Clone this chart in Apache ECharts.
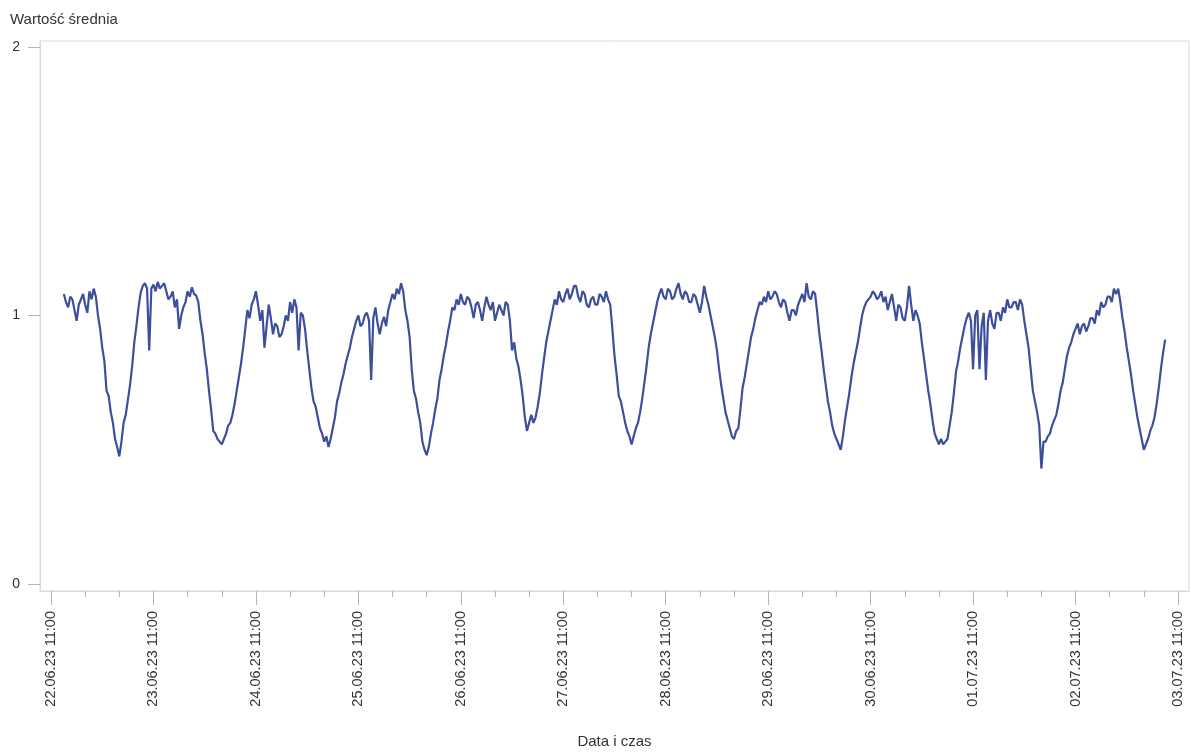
<!DOCTYPE html>
<html>
<head>
<meta charset="utf-8">
<title>Wartość średnia</title>
<script src="https://cdn.jsdelivr.net/npm/echarts@6/dist/echarts.min.js"></script>
<style>
  html, body { margin: 0; padding: 0; background: #fff; }
  #chart { width: 1191px; height: 752px; }
</style>
</head>
<body>
<div id="chart"></div>
<script>
// Half-hourly mean values, first sample 22.06.2023 14:00, one array per day (11:00 → 10:30)
const seriesStart = new Date(2023, 5, 22, 14, 0, 0).getTime();
const stepMs = 30 * 60 * 1000;
const hourMs = 3600 * 1000;

const day0 = [1.08, 1.05, 1.03, 1.07, 1.06, 1.02, 0.98, 1.04, 1.06, 1.08, 1.04, 1.01, 1.09, 1.06,
  1.10, 1.07, 1.00, 0.95, 0.88, 0.83, 0.72, 0.70, 0.64, 0.60, 0.54, 0.51, 0.475, 0.53, 0.60, 0.63,
  0.685, 0.74, 0.81, 0.90, 0.96, 1.03, 1.085, 1.11, 1.12, 1.10, 0.87, 1.10];
const day1 = [1.115, 1.09, 1.125, 1.10, 1.11, 1.12, 1.09, 1.06, 1.07, 1.09, 1.03, 1.06, 0.95, 1.00,
  1.03, 1.05, 1.09, 1.07, 1.105, 1.08, 1.075, 1.05, 0.98, 0.93, 0.86, 0.80, 0.72, 0.65, 0.57, 0.56,
  0.54, 0.53, 0.52, 0.54, 0.56, 0.59, 0.60, 0.63, 0.67, 0.72, 0.77, 0.82, 0.88, 0.95, 1.02, 0.99, 1.04, 1.06];
const day2 = [1.09, 1.04, 0.98, 1.02, 0.88, 0.96, 1.04, 0.99, 0.93, 0.97, 0.96, 0.92, 0.93, 0.96,
  1.00, 0.98, 1.05, 1.01, 1.06, 1.03, 0.87, 1.01, 1.00, 0.95, 0.87, 0.80, 0.73, 0.68, 0.66, 0.62,
  0.58, 0.56, 0.53, 0.55, 0.51, 0.54, 0.58, 0.62, 0.68, 0.71, 0.75, 0.78, 0.82, 0.85, 0.88, 0.92, 0.95, 0.98];
const day3 = [1.00, 0.96, 0.97, 1.00, 1.01, 0.98, 0.76, 0.99, 1.03, 0.97, 0.93, 0.97, 0.995, 0.96,
  1.02, 1.05, 1.08, 1.06, 1.10, 1.08, 1.12, 1.09, 1.02, 0.98, 0.92, 0.80, 0.72, 0.69, 0.64, 0.60,
  0.53, 0.50, 0.48, 0.51, 0.56, 0.60, 0.65, 0.69, 0.76, 0.80, 0.85, 0.89, 0.94, 0.98, 1.03, 1.02, 1.06, 1.04];
const day4 = [1.08, 1.05, 1.04, 1.07, 1.06, 1.03, 0.99, 1.04, 1.05, 1.02, 0.98, 1.03, 1.07, 1.04,
  1.02, 1.05, 0.98, 1.01, 1.04, 1.02, 1.00, 1.05, 1.04, 0.98, 0.87, 0.90, 0.84, 0.81, 0.76, 0.70,
  0.62, 0.57, 0.60, 0.63, 0.60, 0.62, 0.66, 0.71, 0.78, 0.84, 0.90, 0.94, 0.98, 1.02, 1.06, 1.04, 1.09, 1.06];
const day5 = [1.05, 1.08, 1.10, 1.06, 1.08, 1.11, 1.11, 1.07, 1.05, 1.09, 1.08, 1.04, 1.03, 1.06,
  1.07, 1.04, 1.04, 1.08, 1.07, 1.05, 1.09, 1.06, 1.04, 0.95, 0.85, 0.78, 0.70, 0.68, 0.64, 0.60,
  0.57, 0.55, 0.52, 0.55, 0.58, 0.60, 0.64, 0.69, 0.75, 0.81, 0.88, 0.93, 0.97, 1.01, 1.05, 1.08, 1.10, 1.07];
const day6 = [1.06, 1.10, 1.09, 1.06, 1.07, 1.10, 1.12, 1.08, 1.06, 1.09, 1.08, 1.05, 1.05, 1.08,
  1.07, 1.04, 1.01, 1.05, 1.11, 1.07, 1.04, 1.00, 0.96, 0.92, 0.87, 0.80, 0.74, 0.69, 0.64, 0.61,
  0.58, 0.55, 0.54, 0.57, 0.58, 0.65, 0.73, 0.77, 0.82, 0.87, 0.92, 0.95, 0.99, 1.02, 1.05, 1.04, 1.07, 1.05];
const day7 = [1.09, 1.06, 1.07, 1.09, 1.08, 1.05, 1.03, 1.06, 1.05, 1.01, 0.98, 1.02, 1.02, 1.00,
  1.04, 1.06, 1.08, 1.05, 1.12, 1.07, 1.06, 1.09, 1.08, 1.01, 0.93, 0.87, 0.80, 0.74, 0.68, 0.64,
  0.59, 0.56, 0.54, 0.52, 0.50, 0.55, 0.61, 0.66, 0.71, 0.77, 0.82, 0.86, 0.90, 0.95, 1.00, 1.03, 1.05, 1.06];
const day8 = [1.07, 1.09, 1.08, 1.06, 1.07, 1.09, 1.05, 1.07, 1.02, 1.05, 1.08, 1.03, 0.98, 1.04,
  1.03, 0.99, 0.98, 1.03, 1.11, 1.04, 0.98, 1.02, 1.00, 0.97, 0.90, 0.84, 0.78, 0.72, 0.67, 0.61,
  0.56, 0.54, 0.52, 0.54, 0.52, 0.53, 0.54, 0.59, 0.64, 0.71, 0.79, 0.83, 0.88, 0.92, 0.96, 0.99, 1.01, 0.98];
const day9 = [0.80, 1.00, 1.02, 0.80, 0.96, 1.01, 0.76, 0.98, 1.02, 0.97, 0.95, 1.01, 1.01, 0.98,
  1.03, 1.01, 1.06, 1.03, 1.03, 1.05, 1.05, 1.02, 1.06, 1.04, 0.98, 0.93, 0.88, 0.80, 0.72, 0.68,
  0.64, 0.59, 0.43, 0.53, 0.53, 0.55, 0.56, 0.59, 0.61, 0.63, 0.67, 0.72, 0.75, 0.80, 0.85, 0.88, 0.90, 0.93];
const day10 = [0.95, 0.97, 0.93, 0.96, 0.97, 0.94, 0.96, 0.99, 0.99, 0.97, 1.02, 1.00, 1.05, 1.03,
  1.04, 1.07, 1.07, 1.05, 1.10, 1.08, 1.10, 1.05, 0.99, 0.94, 0.88, 0.83, 0.78, 0.72, 0.67, 0.62,
  0.58, 0.54, 0.50, 0.52, 0.54, 0.57, 0.59, 0.62, 0.67, 0.73, 0.80, 0.86, 0.91];

const values = [].concat(day0, day1, day2, day3, day4, day5, day6, day7, day8, day9, day10);

// Axis labels: every day at 11:00, minor ticks every 8 hours
const labelDays = ['2023-06-22', '2023-06-23', '2023-06-24', '2023-06-25', '2023-06-26', '2023-06-27',
                   '2023-06-28', '2023-06-29', '2023-06-30', '2023-07-01', '2023-07-02', '2023-07-03'];
const yTicks = [0, 1, 2];

const axisMin = new Date(2023, 5, 22, 8, 25).getTime();
const axisMax = new Date(2023, 6, 3, 13, 35).getTime();

function dayAt(s, hour) {
  const p = s.split('-').map(Number);
  return new Date(p[0], p[1] - 1, p[2], hour, 0, 0).getTime();
}
const majorTicks = labelDays.map(d => dayAt(d, 11));
const minorTicks = [];
majorTicks.forEach((t, i) => {
  if (i < majorTicks.length - 1) {
    minorTicks.push(t + 8 * hourMs, t + 16 * hourMs);
  }
});

const lineData = values.map((v, i) => [seriesStart + i * stepMs, v]);

function pad(n) { return (n < 10 ? '0' : '') + n; }
function fmt(v) {
  const d = new Date(v);
  return pad(d.getDate()) + '.' + pad(d.getMonth() + 1) + '.' + pad(d.getFullYear() % 100) +
         ' ' + pad(d.getHours()) + ':' + pad(d.getMinutes());
}

const textColor = '#333333';
const tickColor = '#b5b5b5';
const font = 'Liberation Sans, Arial, sans-serif';

const chart = echarts.init(document.getElementById('chart'), null, { renderer: 'canvas' });
chart.setOption({
  animation: false,
  backgroundColor: '#ffffff',
  textStyle: { fontFamily: font },
  title: {
    text: 'Wartość średnia',
    left: 5,
    top: 7,
    textStyle: { fontSize: 15, fontWeight: 'normal', color: textColor, fontFamily: font }
  },
  grid: {
    left: 40, right: 2, top: 41, bottom: 161,
    outerBoundsMode: 'none',
    containLabel: false,
    show: true, borderColor: '#dadada', borderWidth: 1, backgroundColor: 'transparent'
  },
  xAxis: [
    {
      type: 'value',
      min: axisMin,
      max: axisMax,
      name: 'Data i czas',
      nameLocation: 'middle',
      nameGap: 143,
      nameTextStyle: { fontSize: 15, color: textColor, fontFamily: font },
      axisLine: { show: true, onZero: false, lineStyle: { color: '#dadada' } },
      axisTick: { show: true, length: 14, customValues: majorTicks, lineStyle: { color: tickColor } },
      axisLabel: {
        customValues: majorTicks,
        rotate: 90,
        margin: 20,
        fontSize: 14.5,
        color: textColor,
        fontFamily: font,
        formatter: fmt
      },
      splitLine: { show: false }
    },
    {
      type: 'value',
      min: axisMin,
      max: axisMax,
      position: 'bottom',
      axisLine: { show: false, onZero: false },
      axisTick: { show: true, length: 6, customValues: minorTicks, lineStyle: { color: tickColor } },
      axisLabel: { show: false },
      splitLine: { show: false }
    }
  ],
  yAxis: {
    type: 'value',
    min: -0.026,
    max: 2.022,
    axisLine: { show: true, onZero: false, lineStyle: { color: '#dadada' } },
    axisTick: { show: true, length: 12, customValues: yTicks, lineStyle: { color: tickColor } },
    axisLabel: {
      customValues: yTicks,
      margin: 20,
      fontSize: 14,
      color: textColor,
      fontFamily: font
    },
    splitLine: { show: false }
  },
  series: [{
    type: 'line',
    xAxisIndex: 0,
    data: lineData,
    showSymbol: false,
    symbol: 'none',
    lineStyle: { color: '#3d4f9b', width: 2.2 },
    emphasis: { disabled: true }
  }]
});
</script>
</body>
</html>
